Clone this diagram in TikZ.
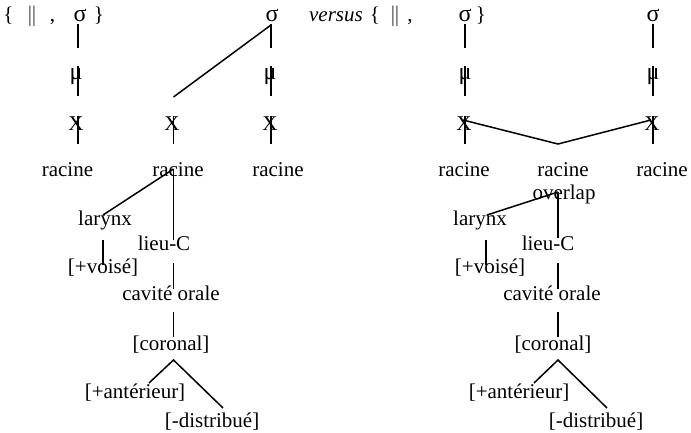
\documentclass[tikz,border=0pt]{standalone}
\usepackage{fontspec}
\setmainfont{Liberation Serif}
\usetikzlibrary{calc}

\begin{document}
\begin{tikzpicture}[x=1pt,y=-1pt,font=\fontsize{21}{25}\selectfont,
    every node/.style={anchor=base,inner sep=0pt},
    greek/.style={font=\fontsize{24}{28}\selectfont},
    branch/.style={line width=1.5pt}]
        \useasboundingbox (0,0) rectangle (691,433);

        % column axes
        \coordinate (cA) at (78,0);
        \coordinate (cB) at (173.5,0);
        \coordinate (cC) at (271,0);
        \coordinate (cD) at (465,0);
        \coordinate (cE) at (558,0);
        \coordinate (cF) at (653,0);
        \coordinate (cLB) at (103,0);
        \coordinate (cLE) at (486,0);

        % top line
        \node (lbrA) at (8.5,22) {\{};
        \node (barA) at (32,22) {$\Vert$};
        \node (comA) at (52.5,22) {,};
        \node[greek] (sigA) at (80,22) {σ};
        \node (rbrA) at (99,22) {\}};
        \node[greek] (sigC) at (272,22) {σ};
        \node[font=\fontsize{21}{25}\selectfont\itshape] (vs) at (336,22) {versus};
        \node (lbrD) at (375,22) {\{};
        \node (barD) at (395,22) {$\Vert$};
        \node (comD) at (410,22) {,};
        \node[greek] (sigD) at (465,22) {σ};
        \node (rbrD) at (481,22) {\}};
        \node[greek] (sigF) at (653,22) {σ};

        \node[greek] (muA) at (76,80) {μ};
        \node[greek] (muC) at (270,80) {μ};
        \node[greek] (muD) at (465,80) {μ};
        \node[greek] (muF) at (653,80) {μ};

        \node (XA) at (76,131) {X};
        \node (XB) at (172,131) {X};
        \node (XC) at (270,131) {X};
        \node (XD) at (464,131) {X};
        \node (XF) at (652,131) {X};

        \node (racA) at (67.5,176) {racine};
        \node (racB) at (178,176) {racine};
        \node (racC) at (278,176) {racine};
        \node (racD) at (464,176) {racine};
        \node (racE) at (563,176) {racine};
        \node (racF) at (662,176) {racine};
        \node (ovE) at (564,200) {overlap};

        % left tree
        \node (larB) at (105,225) {larynx};
        \node (lieB) at (164,250) {lieu-C};
        \node (voiB) at (103,273) {[+voisé]};
        \node (cavB) at (171,300) {cavité orale};
        \node (corB) at (171,350) {[coronal]};
        \node (antB) at (135,398) {[+antérieur]};
        \node (disB) at (212,427) {[-distribué]};

        % right tree
        \node (larE) at (480,225) {larynx};
        \node (lieE) at (548,250) {lieu-C};
        \node (voiE) at (490,273) {[+voisé]};
        \node (cavE) at (552,300) {cavité orale};
        \node (corE) at (553,350) {[coronal]};
        \node (antE) at (519,398) {[+antérieur]};
        \node (disE) at (596,427) {[-distribué]};

        % stems sigma - mu - X - racine
        \foreach \col in {A,C,D,F} {
          \draw[branch] ($(c\col |- sig\col.base)+(0,2)$) -- ($(c\col |- mu\col.base)+(0,-32)$);
          \draw[branch] ($(c\col |- mu\col.base)+(0,-14)$) -- ($(c\col |- X\col.base)+(0,-35)$);
          \draw[branch] ($(c\col |- X\col.base)+(0,-15)$) -- ($(c\col |- rac\col.base)+(0,-32)$);
        }
        \draw[branch] ($(cC |- sigC.base)+(0,3)$) -- ($(cB |- XB.base)+(0,-34)$);
        \draw[branch] ($(cB |- XB.base)+(0,-15)$) -- ($(cB |- racB.base)+(0,-32)$);
        \draw[branch] ($(cD |- XD.base)+(-2,-11)$) -- ($(cE |- racE.base)+(0,-32)$)
          -- ($(cF |- XF.base)+(-2,-11)$);

        % left feature tree
        \draw[branch] ($(cB |- racB.base)+(0,-7)$) -- ($(cLB |- larB.base)+(0,-10)$);
        \draw[branch] ($(cB |- racB.base)+(0,-7)$) -- ($(cB |- lieB.base)+(0,-10)$);
        \draw[branch] ($(cLB |- larB.base)+(0,15)$) -- ($(cLB |- voiB.base)+(0,-8)$);
        \draw[branch] ($(cB |- lieB.base)+(0,13)$) -- ($(cB |- cavB.base)+(0,-11)$);
        \draw[branch] ($(cB |- cavB.base)+(0,12)$) -- ($(cB |- corB.base)+(0,-13)$);
        \draw[branch] ($(antB.base)+(14,-15)$) -- ($(cB |- corB.base)+(0,10)$)
          -- ($(disB.base)+(11,-19)$);

        % right feature tree
        \draw[branch] ($(cE |- ovE.base)+(0,-8)$) -- ($(larE.base)+(7,-10)$);
        \draw[branch] ($(cE |- ovE.base)+(0,-8)$) -- ($(cE |- lieE.base)+(0,-12)$);
        \draw[branch] ($(cLE |- larE.base)+(0,15)$) -- ($(cLE |- voiE.base)+(0,-8)$);
        \draw[branch] ($(cE |- lieE.base)+(0,13)$) -- ($(cE |- cavE.base)+(0,-11)$);
        \draw[branch] ($(cE |- cavE.base)+(0,12)$) -- ($(cE |- corE.base)+(0,-13)$);
        \draw[branch] ($(antE.base)+(15,-15)$) -- ($(cE |- corE.base)+(0,10)$)
          -- ($(disE.base)+(11,-19)$);
      \end{tikzpicture}
\end{document}
